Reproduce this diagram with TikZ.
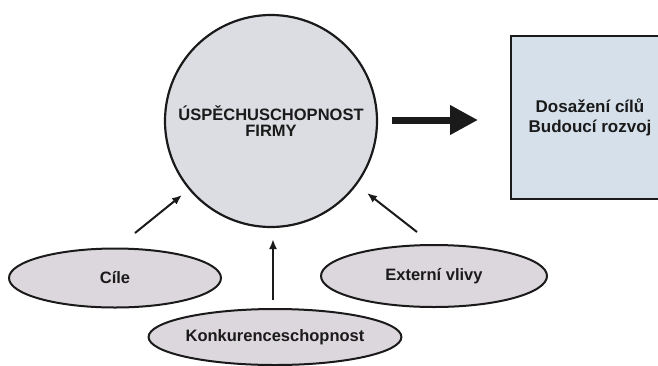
\documentclass[tikz,border=0pt]{standalone}
\usepackage{fontspec}
\setmainfont{Liberation Sans}
\usetikzlibrary{shapes.geometric,arrows.meta}

\definecolor{circfill}{HTML}{DCDDE3}
\definecolor{ellfill}{HTML}{DCD7DC}
\definecolor{boxfill}{HTML}{D5E0EA}
\definecolor{ink}{HTML}{1A1A1A}

\tikzset{
  hub/.style={circle, draw=ink, line width=2.2pt, fill=circfill,
    minimum size=212pt, inner sep=0pt, align=center, text=ink,
    font=\fontsize{16.5}{20}\selectfont\bfseries},
  factor/.style={ellipse, draw=ink, line width=2pt, fill=ellfill,
    inner sep=0pt, text=ink, font=\fontsize{16.5}{20}\selectfont\bfseries},
  result/.style={rectangle, draw=ink, line width=2pt, fill=boxfill,
    inner sep=0pt, align=center, text=ink,
    font=\fontsize{17}{19.5}\selectfont\bfseries},
  bigarrow/.style={draw=ink, line width=7pt,
    -{Triangle[length=28pt,width=28pt]}},
  thinarrow/.style={draw=ink, line width=2pt,
    -{Latex[length=10pt,width=8pt]}}
}

\begin{document}
\begin{tikzpicture}[x=1pt,y=-1pt]
  \useasboundingbox (0,0) rectangle (658,365);
  \fill[white] (0,0) rectangle (658,365);

  % central circle
  \node[hub] (main) at (271,121) {\raisebox{-8pt}{\shortstack[c]{ÚSPĚCHUSCHOPNOST\\[2pt]FIRMY}}};

  % result box, running off the right edge
  \node[result, minimum width=158pt, minimum height=163pt] (goal) at (590,117.5)
    {Dosažení cílů\\Budoucí rozvoj};

  % influencing factors
  \node[factor, minimum width=212pt, minimum height=59pt] (cile) at (115,278) {Cíle};
  \node[factor, minimum width=226pt, minimum height=62pt] (ext) at (434,276) {Externí vlivy};
  \node[factor, minimum width=216pt, minimum height=56pt] (konk) at (275,337) {Konkurenceschopnost};

  % arrow ends
  \coordinate (cileA) at (135,233);
  \coordinate (cileB) at (182,195);
  \coordinate (extA) at (417,232);
  \coordinate (extB) at (367,193);
  \coordinate (konkA) at (273,300);
  \coordinate (konkB) at (273,239);
  \coordinate (mainR) at (392,120);
  \coordinate (goalL) at (478,120);

  \draw[bigarrow] (mainR) -- (goalL);
  \draw[thinarrow] (cileA) -- (cileB);
  \draw[thinarrow] (extA) -- (extB);
  \draw[thinarrow] (konkA) -- (konkB);
\end{tikzpicture}
\end{document}
